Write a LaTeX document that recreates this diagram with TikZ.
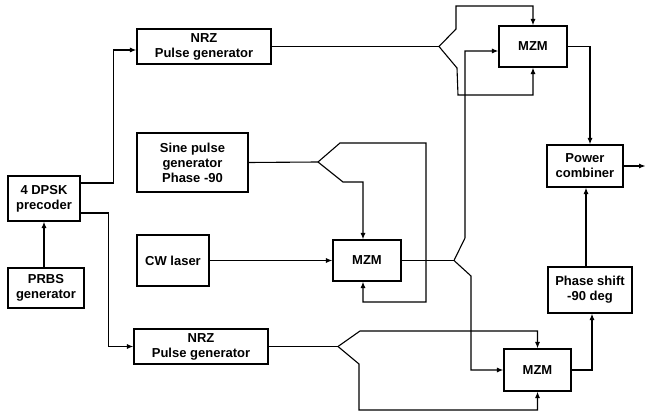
\documentclass[tikz,border=0pt]{standalone}
\usepackage{fontspec}
\setmainfont{Liberation Sans}
\usetikzlibrary{arrows.meta}
\begin{document}
\begin{tikzpicture}[x=1pt,y=-1pt,
  blk/.style={draw,line width=1.1pt,rectangle,inner sep=0pt,align=center,
    font=\fontsize{13}{15}\selectfont\bfseries},
  wire/.style={line width=1.1pt,line join=miter},
  arr/.style={wire,-{Latex[length=6.5pt,width=5pt]}}]
\useasboundingbox (0,0) rectangle (646,414);
% blocks
\node[blk,minimum width=134pt,minimum height=35pt] (nrzA) at (204,46.5) {NRZ\\Pulse generator};
\node[blk,minimum width=111pt,minimum height=59pt] (sine) at (192.5,162.5) {Sine pulse\\generator\\Phase -90};
\node[blk,minimum width=72pt,minimum height=45pt] (dpsk) at (44,198.5) {4 DPSK\\precoder};
\node[blk,minimum width=76pt,minimum height=40pt] (prbs) at (46,288) {PRBS\\generator};
\node[blk,minimum width=72pt,minimum height=51pt] (cw) at (173,260.5) {CW laser};
\node[blk,minimum width=134pt,minimum height=35pt] (nrzB) at (201,346.5) {NRZ\\Pulse generator};
\node[blk,minimum width=68pt,minimum height=41pt] (mzmA) at (533,46.5) {MZM};
\node[blk,minimum width=68pt,minimum height=41pt] (mzmB) at (367,260.5) {MZM};
\node[blk,minimum width=67pt,minimum height=42pt] (mzmC) at (537.5,370) {MZM};
\node[blk,minimum width=76pt,minimum height=42pt] (pc) at (585,166) {Power\\combiner};
\node[blk,minimum width=84pt,minimum height=46pt] (ps) at (590,290) {Phase shift\\-90 deg};
% fork points and free end
\coordinate (fA) at (439,46.5);
\coordinate (fS) at (318,162);
\coordinate (fB) at (454,260.5);
\coordinate (fC) at (338,346.5);
\coordinate (out) at (645.5,166);
% precoder outputs
\draw[arr] ([yshift=15.5pt]dpsk.east) -- ++(33,0) |- ([yshift=-3.5pt]nrzA.west);
\draw[arr] ([yshift=-14.5pt]dpsk.east) -- ++(28,0) |- (nrzB.west);
\draw[arr] (dpsk.south |- prbs.north) -- (dpsk.south);
% NRZ A to MZM A
\draw[wire] (nrzA.east) -- (fA);
\draw[arr] (fA) -- (456,29) -- (456,6) -| (mzmA.north);
\draw[arr] (fA) -- (457,68) -- (458,95) -| (mzmA.south);
% sine to MZM B
\draw[wire] (sine.east) -- (fS);
\draw[arr] (fS) -- (340,143) -| (426,302) -| ([xshift=-4pt]mzmB.south);
\draw[arr] (fS) -- (343,182) -| ([xshift=-4pt]mzmB.north);
\draw[arr] (cw.east) -- (mzmB.west);
% MZM B output split
\draw[wire] (mzmB.east) -- (fB);
\draw[arr] (fB) -- (465,238) |- ([yshift=-4.5pt]mzmA.west);
\draw[arr] (fB) -- (471,276) |- (mzmC.west);
% NRZ B to MZM C
\draw[wire] (nrzB.east) -- (fC);
\draw[arr] (fC) -- (360,331) -| (mzmC.north);
\draw[arr] (fC) -- (359,364) -- (359,410) -| (mzmC.south);
% outputs
\draw[arr] (mzmA.east) -| ([xshift=5pt]pc.north);
\draw[arr] (mzmC.east) -| ([xshift=2pt]ps.south);
\draw[arr] ([xshift=-4pt]ps.north) -- ([xshift=1pt]pc.south);
\draw[arr] (pc.east) -- (out);
\end{tikzpicture}
\end{document}
